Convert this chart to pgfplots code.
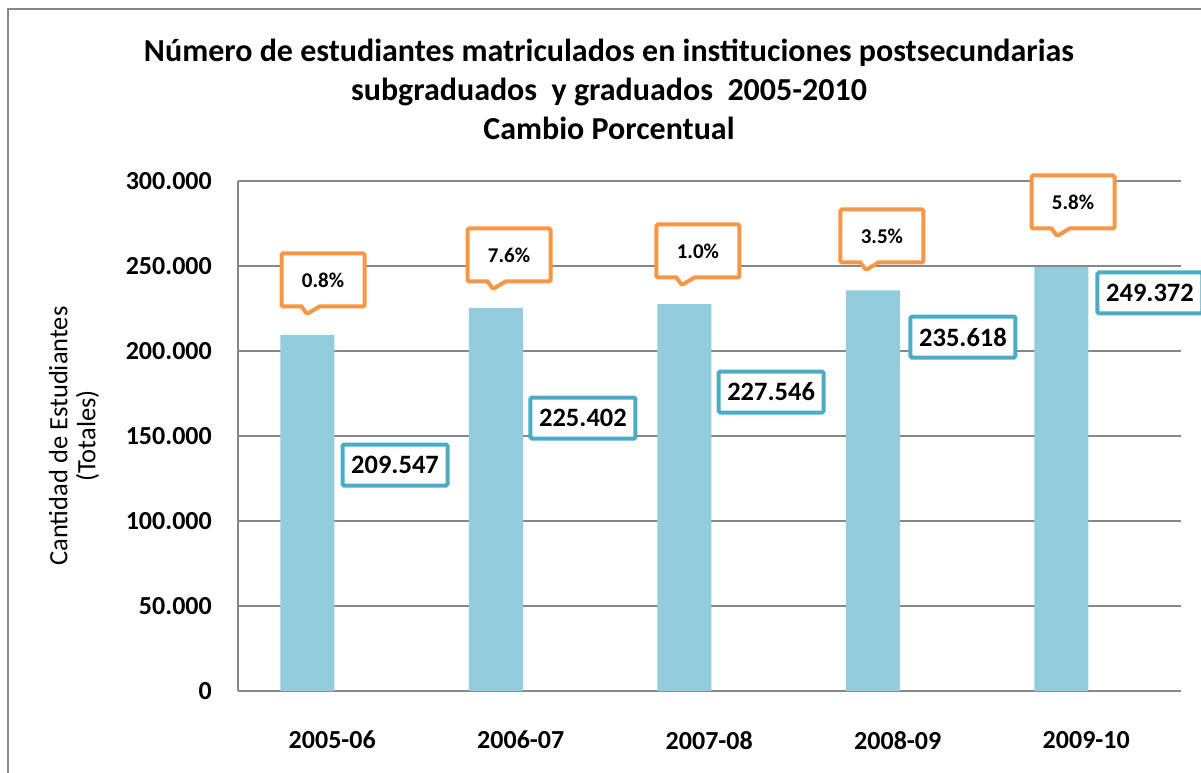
\documentclass[border=0pt]{standalone}
\usepackage{fontspec}
\setmainfont{Carlito}
\usepackage{pgfplots}
\pgfplotsset{compat=1.18}
\usetikzlibrary{shapes.callouts}
\definecolor{BarBlue}{HTML}{93CDDD}
\definecolor{BoxBlue}{HTML}{4BACC6}
\definecolor{CallOrange}{HTML}{F79646}
\definecolor{GridGray}{HTML}{878787}

\begin{document}
\begin{tikzpicture}[x=1pt,y=1pt]
\useasboundingbox (0,0) rectangle (1201,772);
% outer chart frame (cut at right and bottom)
\draw[GridGray, line width=2pt] (8,-10) -- (8,763) -- (1215,763);
\node[align=center, font=\fontsize{32}{39}\selectfont\bfseries] at (609,683)
  {Número de estudiantes matriculados en instituciones postsecundarias\\
   subgraduados\ \ y graduados\ \ 2005-2010\\ Cambio Porcentual};
\begin{axis}[
  at={(238pt,81pt)}, anchor=south west,
  scale only axis, width=942.5pt, height=510pt,
  xmin=-0.5, xmax=4.5, ymin=0, ymax=300000,
  clip=false,
  xtick={0,1,2,3,4},
  xticklabels={2005-06,2006-07,2007-08,2008-09,2009-10},
  ytick={0,50000,100000,150000,200000,250000,300000},
  scaled y ticks=false,
  axis x line*=bottom, axis y line*=left,
  axis line style={GridGray, line width=1.3pt, -},
  ymajorgrids, grid style={GridGray, line width=1.3pt},
  major tick style={draw=none},
  tick label style={font=\fontsize{26}{30}\selectfont\bfseries},
  y tick label style={/pgf/number format/fixed, /pgf/number format/1000 sep={.},
    /pgf/number format/assume math mode=true, inner sep=0pt, xshift=-26pt},
  x tick label style={inner sep=0pt, yshift=-40pt},
  ylabel={Cantidad de Estudiantes\\(Totales)},
  ylabel style={at={(axis description cs:-0.174,0.5)}, anchor=center, align=center,
    font=\fontsize{26.5}{28}\selectfont},
]
\addplot[ybar, bar width=54pt, bar shift=-25pt, fill=BarBlue, draw=none] coordinates {
  (0,209547) (1,225402) (2,227546) (3,235618) (4,249372)
};
% value labels
\begin{scope}[every node/.style={draw=BoxBlue, line width=4pt, fill=white,
    minimum width=105pt, minimum height=41pt, rounded corners=1.5pt,
    font=\fontsize{26.5}{30}\selectfont\bfseries}]
\node at (axis cs:0.333,132941) {209.547};
\node at (axis cs:1.330,160588) {225.402};
\node at (axis cs:2.328,175882) {227.546};
\node at (axis cs:3.346,208235) {235.618};
\node at (axis cs:4.338,234118) {249.372};
\end{scope}
% percent change callouts
\begin{scope}[every node/.style={rectangle callout, draw=CallOrange, line width=4pt,
    fill=white, minimum width=83pt, minimum height=53pt, rounded corners=1.5pt,
    callout pointer width=18pt,
    font=\fontsize{21}{24}\selectfont\bfseries}]
\node[callout absolute pointer={(axis cs:-0.134,221765)}] at (axis cs:-0.049,241765) {0.8\%};
\node[callout absolute pointer={(axis cs:0.853,236471)}] at (axis cs:0.938,256471) {7.6\%};
\node[callout absolute pointer={(axis cs:1.855,238824)}] at (axis cs:1.940,258824) {1.0\%};
\node[callout absolute pointer={(axis cs:2.831,247647)}] at (axis cs:2.916,267647) {3.5\%};
\node[callout absolute pointer={(axis cs:3.845,267647)}] at (axis cs:3.930,287647) {5.8\%};
\end{scope}
\end{axis}
\end{tikzpicture}
\end{document}
